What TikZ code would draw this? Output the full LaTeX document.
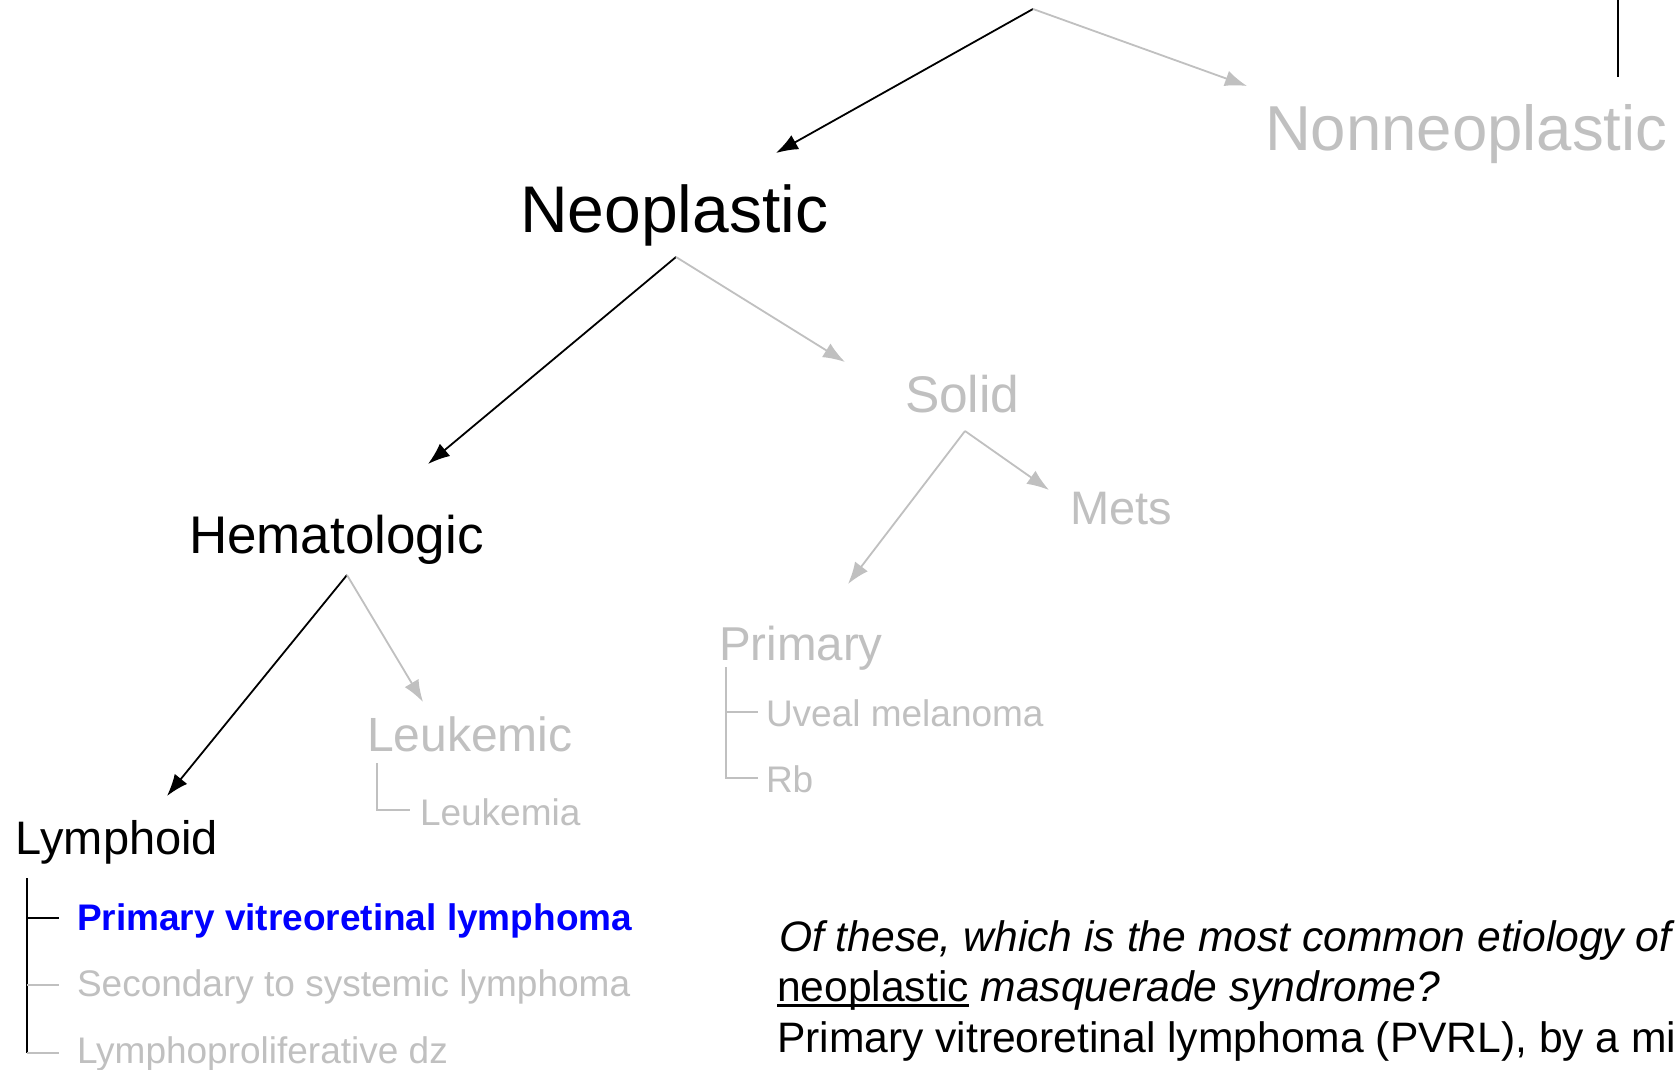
\documentclass[tikz,border=0pt]{standalone}
\usepackage{fontspec}
\setmainfont{Liberation Sans}
\usetikzlibrary{arrows.meta}

\definecolor{dim}{HTML}{C0C0C0}
\definecolor{hilite}{HTML}{0000FF}

\newcommand\fsz[1]{\fontsize{#1pt}{#1pt}\selectfont}
\newcommand\thickul[1]{\setbox0\hbox{#1}\rlap{\rule[-0.13em]{\wd0}{0.065em}}\box0\relax}

\tikzset{
  lbl/.style={anchor=base west, inner sep=0pt, outer sep=0pt},
  sz/.style={lbl, font=\fsz{#1}},
  arr/.style={line width=1.8pt, -{Latex[length=22pt,width=16pt]}},
  live/.style={arr, draw=black},
  faded/.style={arr, draw=dim},
  treeon/.style={line width=1.6pt, draw=black},
  treeoff/.style={line width=1.6pt, draw=dim},
}

\begin{document}
\begin{tikzpicture}[x=1pt, y=-1pt]
  \useasboundingbox[fill=white] (0,0) rectangle (1678,1070);

  % top split
  \coordinate (apex) at (1033,9);
  \coordinate (neoTip) at (776,153);
  \coordinate (nonTip) at (1247,86);
  \coordinate (barTop) at (1618,0);
  \coordinate (barBot) at (1618,77);
  \draw[line width=2pt] (barTop) -- (barBot);

  % headings
  \node[sz=63.5, text=dim] (nonneo) at (1265,150) {Nonneoplastic};
  \node[sz=66] (neo) at (520,232) {Neoplastic};
  \node[sz=51.5, text=dim] (solid) at (905,412) {Solid};
  \node[sz=47, text=dim] (mets) at (1070,524) {Mets};
  \node[sz=53] (hema) at (189,553) {Hematologic};
  \node[sz=47.5, text=dim] (primary) at (719,660) {Primary};
  \node[sz=37, text=dim] (uveal) at (766,726) {Uveal melanoma};
  \node[sz=37, text=dim] (rb) at (766,792) {Rb};
  \node[sz=48, text=dim] (leukemic) at (367,751) {Leukemic};
  \node[sz=37, text=dim] (leukemia) at (420,825) {Leukemia};
  \node[sz=47, text=black] (lymphoid) at (16,854) {Lymphoid};
  \node[sz=37, text=hilite, font=\fsz{37}\bfseries] (pvrl) at (77,930) {Primary vitreoretinal lymphoma};
  \node[sz=37, text=dim] (secondary) at (77,996) {Secondary to systemic lymphoma};
  \node[sz=37, text=dim] (lpd) at (77,1063) {Lymphoproliferative dz};

  % question and answer
  \node[sz=42.6] (q1) at (779,951) {\itshape Of these, which is the most common etiology of};
  \node[sz=42.6] (q2) at (777,1001) {\thickul{neoplastic} \itshape masquerade syndrome?};
  \node[sz=42.6] (ans) at (777,1052) {Primary vitreoretinal lymphoma (PVRL), by a mi};

  % branch points and arrow tips
  \coordinate (neoFork) at (676,257);
  \coordinate (hemaTip) at (428,464);
  \coordinate (solidTip) at (845,362);
  \coordinate (solidFork) at (965,431);
  \coordinate (primTip) at (848,584);
  \coordinate (metsTip) at (1049,490);
  \coordinate (hemaFork) at (347,575);
  \coordinate (lymTip) at (167,796);
  \coordinate (leukTip) at (423,702);

  \draw[live] (apex) -- (neoTip);
  \draw[faded] (apex) -- (nonTip);
  \draw[live] (neoFork) -- (hemaTip);
  \draw[faded] (neoFork) -- (solidTip);
  \draw[faded] (solidFork) -- (primTip);
  \draw[faded] (solidFork) -- (metsTip);
  \draw[live] (hemaFork) -- (lymTip);
  \draw[faded] (hemaFork) -- (leukTip);

  % outline trees
  \coordinate (pT) at (726,667);
  \coordinate (pA) at (726,712);
  \coordinate (pB) at (726,778);
  \coordinate (pAe) at (758,712);
  \coordinate (pBe) at (758,778);
  \draw[treeoff] (pT) -- (pB) -- (pBe);
  \draw[treeoff] (pA) -- (pAe);

  \coordinate (lT) at (377,763);
  \coordinate (lB) at (377,810);
  \coordinate (lBe) at (410,810);
  \draw[treeoff] (lT) -- (lB) -- (lBe);

  \coordinate (yT) at (27,878);
  \coordinate (yA) at (27,918);
  \coordinate (yB) at (27,985);
  \coordinate (yC) at (27,1053);
  \coordinate (yAe) at (59,918);
  \coordinate (yBe) at (59,985);
  \coordinate (yCe) at (59,1053);
  \draw[treeon] (yT) -- (yC);
  \draw[treeon] (yA) -- (yAe);
  \draw[treeoff] (yB) -- (yBe);
  \draw[treeoff] (yC) -- (yCe);
\end{tikzpicture}
\end{document}
